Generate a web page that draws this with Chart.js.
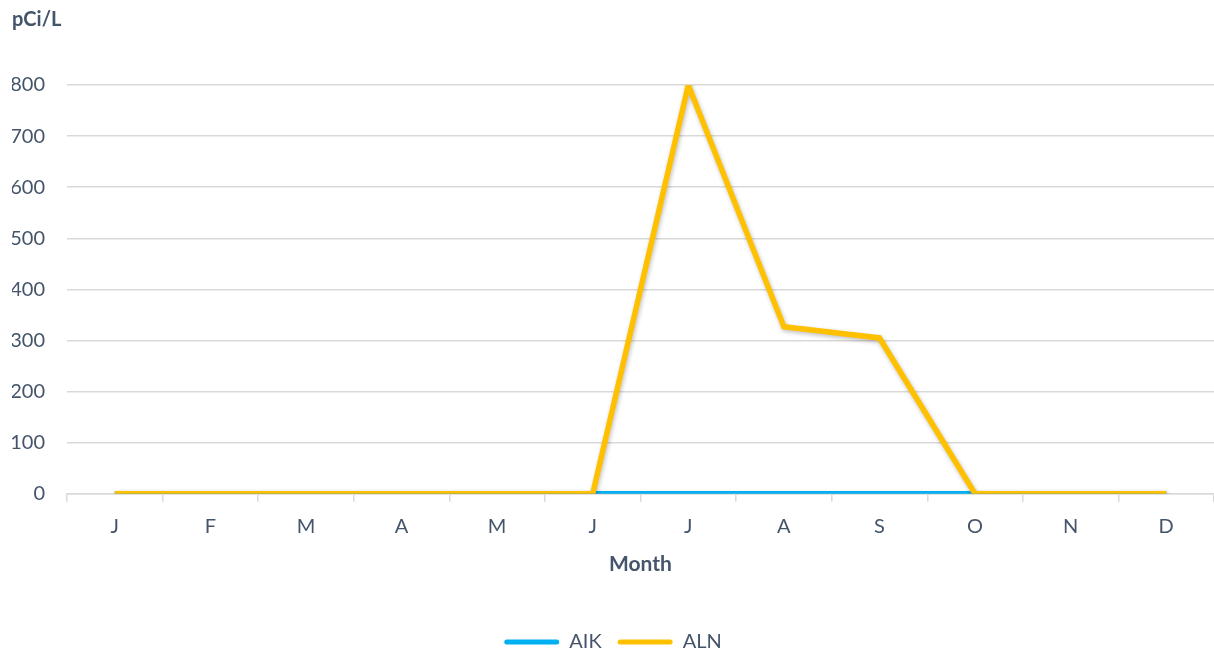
<!DOCTYPE html>
<html>
<head>
<meta charset="utf-8">
<script src="https://cdn.jsdelivr.net/npm/chart.js@4/dist/chart.umd.min.js"></script>
<style>
  html, body { margin: 0; padding: 0; background: #fff; }
  #wrap { width: 1214px; height: 656px; position: relative; }
</style>
</head>
<body>
<div id="wrap"><canvas id="chart"></canvas></div>
<script>
// months on the x axis
var months = ["J", "F", "M", "A", "M", "J", "J", "A", "S", "O", "N", "D"];
// pCi/L readings per month
var aikValues = [0, 0, 0, 0, 0, 0, 0, 0, 0, 0, 0, 0];
var alnValues = [0, 0, 0, 0, 0, 0, 800, 327, 305, 0, 0, 0];
var yTicks = [0, 100, 200, 300, 400, 500, 600, 700, 800];

var textColor = "#44546A";
var gridColor = "#D9D9D9";
var fontName = "Lato, 'Open Sans', sans-serif";

// soft drop shadow under the lines
var shadowPlugin = {
    id: "lineShadow",
    beforeDatasetsDraw: function(chart) {
        var ctx = chart.ctx;
        ctx.save();
        ctx.shadowColor = "rgba(0,0,0,0.25)";
        ctx.shadowBlur = 4;
        ctx.shadowOffsetX = 1;
        ctx.shadowOffsetY = 2;
    },
    afterDatasetsDraw: function(chart) {
        chart.ctx.restore();
    }
};

var chart = new Chart(document.getElementById("chart"), {
    type: "line",
    data: {
        labels: months,
        datasets: [{
            label: "ALN",
            data: alnValues,
            borderColor: "#FFC000",
            backgroundColor: "#FFC000",
            borderWidth: 5.5,
            pointRadius: 0,
            tension: 0,
            fill: false
        }, {
            label: "AIK",
            data: aikValues,
            borderColor: "#00B0F0",
            backgroundColor: "#00B0F0",
            borderWidth: 5.5,
            pointRadius: 0,
            tension: 0,
            fill: false
        }]
    },
    options: {
        responsive: true,
        maintainAspectRatio: false,
        animation: false,
        layout: {
            padding: { left: 12, right: 0, top: 0, bottom: -6 }
        },
        plugins: {
            title: {
                display: true,
                text: "pCi/L",
                align: "start",
                color: textColor,
                font: { family: fontName, size: 20, weight: "bold" },
                padding: { top: 8, bottom: 53 }
            },
            legend: {
                position: "bottom",
                reverse: true,
                labels: {
                    color: textColor,
                    font: { family: fontName, size: 20 },
                    boxWidth: 55,
                    boxHeight: 5,
                    padding: 16,
                    useBorderRadius: true,
                    borderRadius: 2.5,
                    generateLabels: function(chart) {
                        return chart.data.datasets.map(function(ds, i) {
                            return {
                                text: ds.label,
                                fillStyle: ds.borderColor,
                                strokeStyle: ds.borderColor,
                                lineWidth: 0,
                                fontColor: textColor,
                                borderRadius: 2.5,
                                datasetIndex: i,
                                hidden: false
                            };
                        });
                    }
                }
            },
            tooltip: { enabled: false }
        },
        scales: {
            x: {
                offset: true,
                grid: {
                    offset: true,
                    drawOnChartArea: false,
                    drawTicks: true,
                    tickLength: 8,
                    color: gridColor,
                    lineWidth: 1.5
                },
                border: { display: true, color: gridColor, width: 1.5 },
                ticks: {
                    color: textColor,
                    font: { family: fontName, size: 20 },
                    padding: 13,
                    maxRotation: 0
                },
                title: {
                    display: true,
                    text: "Month",
                    color: textColor,
                    font: { family: fontName, size: 21, weight: "bold" },
                    padding: { top: 0, bottom: 39 }
                }
            },
            y: {
                min: 0,
                max: 800,
                afterBuildTicks: function(axis) {
                    axis.ticks = yTicks.map(function(v) { return { value: v }; });
                },
                afterFit: function(axis) {
                    axis.width = 55;
                },
                grid: {
                    color: gridColor,
                    lineWidth: 1.5,
                    drawTicks: false
                },
                border: { display: false },
                ticks: {
                    color: textColor,
                    font: { family: fontName, size: 20 },
                    padding: 22
                }
            }
        }
    },
    plugins: [shadowPlugin]
});
</script>
</body>
</html>
